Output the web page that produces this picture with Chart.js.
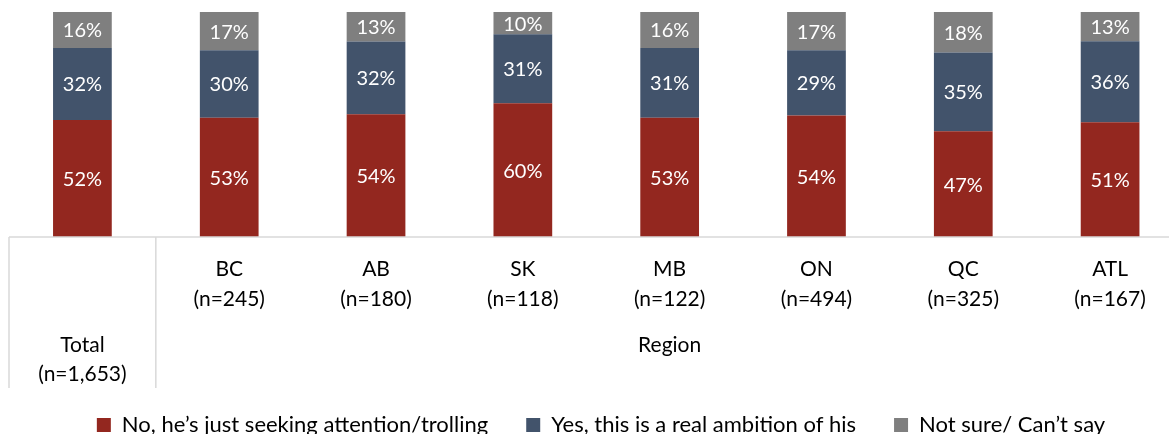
<!DOCTYPE html>
<html lang="en">
<head>
    <meta charset="UTF-8">
    <title>Real ambition or just trolling - by region</title>
    <script src="https://cdn.jsdelivr.net/npm/chart.js"></script>
    <style>
        html, body {
            margin: 0;
            padding: 0;
            background: #ffffff;
            overflow: hidden;
        }
        #wrap {
            position: relative;
            width: 1193px;
            height: 446px;
        }
    </style>
</head>
<body>
    <div id="wrap"><canvas id="regionChart"></canvas></div>

    <script>
        // categories (first line / second line of each label)
        const regions = ['Total', 'BC', 'AB', 'SK', 'MB', 'ON', 'QC', 'ATL'];
        const sampleSizes = ['(n=1,653)', '(n=245)', '(n=180)', '(n=118)', '(n=122)', '(n=494)', '(n=325)', '(n=167)'];
        const groupLabel = 'Region';

        // series values (%)
        const trolling = [52, 53, 54, 60, 53, 54, 47, 51];
        const realAmbition = [32, 30, 32, 31, 31, 29, 35, 36];
        const notSure = [16, 17, 13, 10, 16, 17, 18, 13];

        const seriesNames = [
            'No, he\u2019s just seeking attention/trolling',
            'Yes, this is a real ambition of his',
            'Not sure/ Can\u2019t say'
        ];
        const seriesColors = ['#93271F', '#42536B', '#7F7F7F'];

        const FONT = 'Lato, "Open Sans", sans-serif';
        const LINE = '#D9D9D9';

        // 100% stacked: each bar is scaled to its own total, labels keep the raw value
        const totals = regions.map((_, i) => trolling[i] + realAmbition[i] + notSure[i]);
        const share = arr => arr.map((v, i) => v / totals[i] * 100);

        const raw = [trolling, realAmbition, notSure];

        // value labels in the middle of each segment
        const segmentLabels = {
            id: 'segmentLabels',
            afterDatasetsDraw(chart) {
                const ctx = chart.ctx;
                ctx.save();
                ctx.fillStyle = '#ffffff';
                ctx.font = '20px ' + FONT;
                ctx.textAlign = 'center';
                ctx.textBaseline = 'middle';
                chart.data.datasets.forEach((ds, d) => {
                    chart.getDatasetMeta(d).data.forEach((bar, i) => {
                        const y = (bar.y + bar.base) / 2;
                        ctx.fillText(raw[d][i] + '%', bar.x, y + 1);
                    });
                });
                ctx.restore();
            }
        };

        // two-tier category axis: lines and labels below the bars
        const tableAxis = {
            id: 'tableAxis',
            afterDraw(chart) {
                const ctx = chart.ctx;
                const x = chart.scales.x;
                const area = chart.chartArea;
                const step = x.getPixelForValue(1) - x.getPixelForValue(0);
                const bottom = area.bottom;
                ctx.save();
                ctx.strokeStyle = LINE;
                ctx.lineWidth = 1.5;
                ctx.beginPath();
                ctx.moveTo(area.left, bottom);
                ctx.lineTo(chart.width, bottom);
                const left0 = x.getPixelForValue(0) - step / 2;
                [left0, left0 + step].forEach(px => {
                    ctx.moveTo(px, bottom);
                    ctx.lineTo(px, bottom + 151);
                });
                ctx.stroke();

                ctx.fillStyle = '#000000';
                ctx.font = '21px ' + FONT;
                ctx.textAlign = 'center';
                ctx.textBaseline = 'middle';
                regions.forEach((r, i) => {
                    const px = x.getPixelForValue(i);
                    if (i === 0) {
                        ctx.fillText(r, px, bottom + 108);
                        ctx.fillText(sampleSizes[i], px, bottom + 137);
                    } else {
                        ctx.fillText(r, px, bottom + 32);
                        ctx.fillText(sampleSizes[i], px, bottom + 62);
                    }
                });
                const mid = (x.getPixelForValue(1) + x.getPixelForValue(regions.length - 1)) / 2;
                ctx.fillText(groupLabel, mid, bottom + 108);
                ctx.restore();
            }
        };

        const data = {
            labels: regions,
            datasets: [
                { label: seriesNames[0], data: share(trolling), backgroundColor: seriesColors[0] },
                { label: seriesNames[1], data: share(realAmbition), backgroundColor: seriesColors[1] },
                { label: seriesNames[2], data: share(notSure), backgroundColor: seriesColors[2] }
            ]
        };

        const config = {
            type: 'bar',
            data: data,
            options: {
                responsive: true,
                maintainAspectRatio: false,
                animation: false,
                layout: {
                    padding: { top: 12, left: 9, right: 0, bottom: 0 }
                },
                datasets: {
                    bar: {
                        barPercentage: 0.4,
                        categoryPercentage: 1,
                        borderWidth: 0
                    }
                },
                scales: {
                    x: {
                        stacked: true,
                        grid: { display: false },
                        border: { display: false },
                        ticks: { display: false },
                        afterFit(scale) { scale.height = 139; }
                    },
                    y: {
                        stacked: true,
                        position: 'right',
                        min: 0,
                        max: 100,
                        grid: { display: false },
                        border: { display: false },
                        ticks: { display: false },
                        afterFit(scale) { scale.width = 9.5; }
                    }
                },
                plugins: {
                    tooltip: { enabled: false },
                    legend: {
                        position: 'bottom',
                        labels: {
                            color: '#000000',
                            font: { family: FONT, size: 22 },
                            boxWidth: 14,
                            boxHeight: 14,
                            padding: 38
                        }
                    }
                }
            },
            plugins: [segmentLabels, tableAxis]
        };

        const regionChart = new Chart(
            document.getElementById('regionChart'),
            config
        );
    </script>
</body>
</html>
